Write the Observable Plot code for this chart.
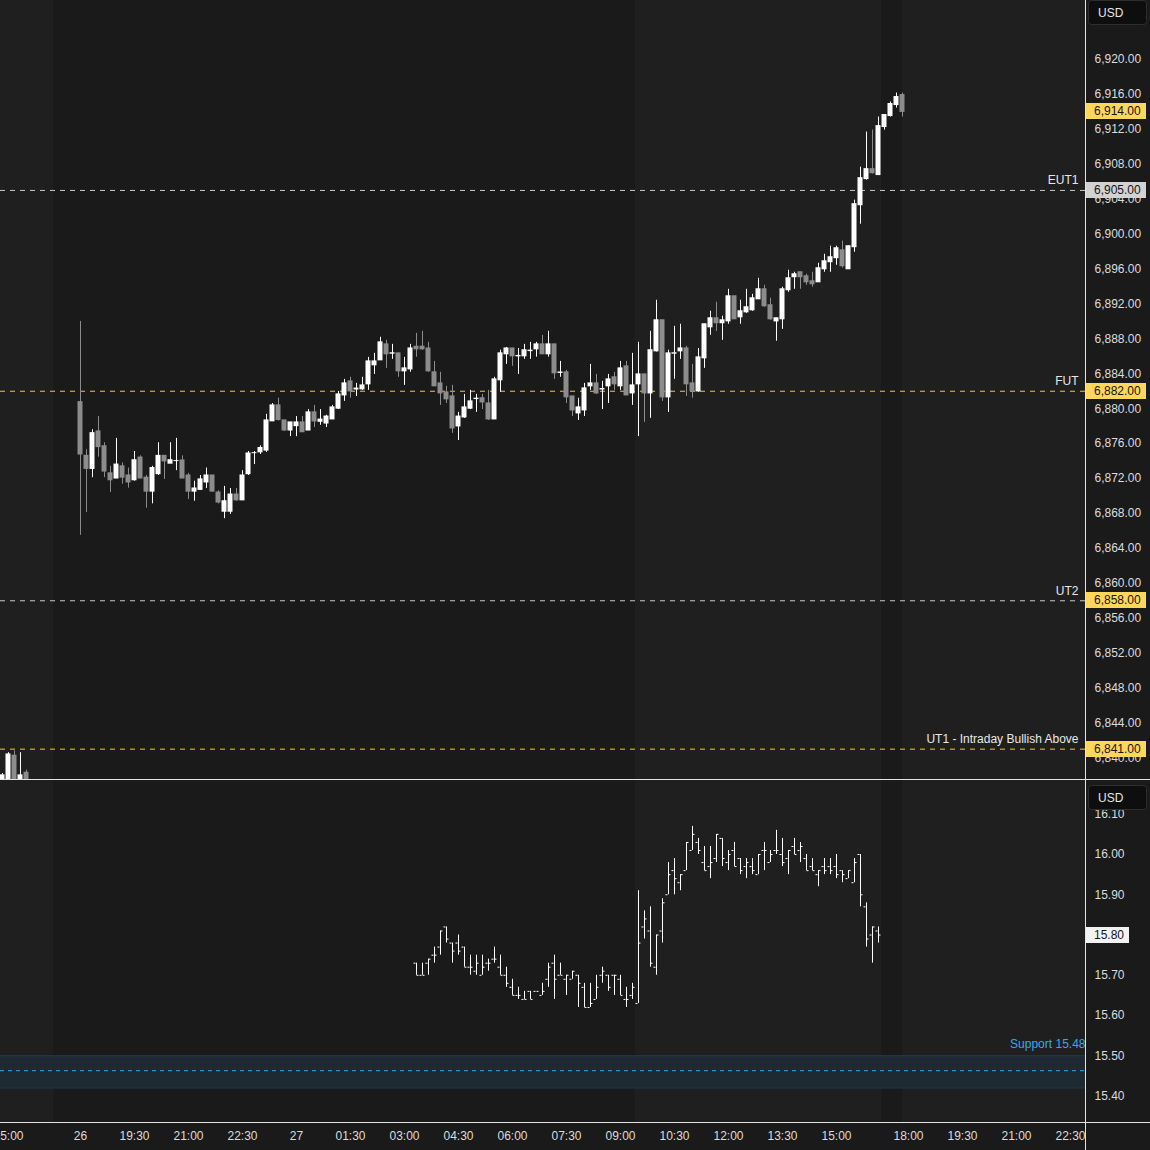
<!DOCTYPE html>
<html><head><meta charset="utf-8">
<script src="https://cdn.jsdelivr.net/npm/d3@7"></script>
<script src="https://cdn.jsdelivr.net/npm/@observablehq/plot@0.6"></script>
<style>
html,body{margin:0;padding:0;background:#1a1a1a;}
#wrap{position:relative;width:1150px;height:1150px;overflow:hidden;background:#1a1a1a;}
#wrap svg{display:block;}
</style></head><body><div id="wrap"></div>
<script>
// ---------------- DATA ----------------
// ES 10-minute candles, main session starting 18:00
const esStart = "18:00";
const esOpen = [6880.75,6874.6,6873.1,6877.4,6875.7,6872.6,6872.0,6873.4,6872.35,6871.8,
6874.4,6872.1,6870.5,6872.5,6874.6,6873.7,6874.0,6874.07,6872.35,6870.5,
6870.7,6871.55,6872.35,6870.4,6868.2,6868.2,6870.17,6869.5,6872.5,6874.9,
6875.0,6875.2,6878.55,6880.38,6878.66,6877.5,6878.0,6878.43,6877.5,6879.58,
6878.5,6878.3,6878.77,6880.0,6881.52,6883.13,6882.2,6882.21,6882.79,6884.97,
6885.54,6887.37,6886.3,6886.34,6884.28,6884.5,6887.1,6887.1,6886.9,6884.17,
6882.9,6881.87,6881.41,6877.97,6879.0,6880.0,6881.1,6881.2,6880.6,6878.77,
6883.25,6886.23,6886.9,6886.0,6886.0,6886.6,6886.8,6887.37,6886.23,6887.37,
6884.1,6884.17,6881.41,6879.46,6879.8,6882.56,6882.9,6882.2,6882.56,6883.6,
6882.56,6884.85,6881.75,6882.79,6883.93,6881.75,6886.57,6890.13,6881.3,6886.3,
6886.57,6886.9,6882.9,6881.98,6885.77,6889.32,6890.36,6889.79,6890.0,6892.88,
6890.47,6891.04,6891.27,6892.53,6893.68,6891.85,6890.0,6890.24,6893.57,6895.06,
6895.63,6895.17,6894.6,6894.48,6895.97,6896.78,6897.24,6898.15,6895.97,6898.5,
6903.31,6906.3,6907.44,6906.76,6912.26,6913.52,6914.78,6915.93];
const esHigh = [6890,6875.3,6877.6,6879.1,6876.1,6873.4,6876.6,6873.8,6873.2,6875.1,
6874.6,6872.35,6873.4,6876.1,6874.6,6876.1,6876.6,6874.6,6872.6,6871.7,
6872.35,6873.2,6872.35,6870.6,6871.1,6870.86,6870.86,6872.9,6875.1,6875.1,
6875.75,6879.35,6880.6,6881.2,6878.66,6878.43,6879.1,6879.1,6879.9,6880.38,
6879.9,6879.25,6880.38,6881.98,6883.36,6883.59,6882.9,6883.6,6885.88,6886.34,
6888.18,6887.83,6887.37,6886.34,6885.88,6887.37,6888.63,6888.86,6887.6,6885.42,
6884.17,6882.56,6882.67,6879.58,6881.64,6882.1,6881.64,6881.64,6882.1,6883.6,
6886.7,6887.0,6886.9,6886.9,6887.37,6887.6,6887.6,6888.4,6888.86,6887.37,
6885.42,6884.4,6881.41,6881.2,6882.9,6885.08,6883.93,6883.13,6883.93,6884.17,
6885.42,6885.42,6886.34,6887.6,6883.93,6888.86,6892.42,6890.13,6886.7,6889.44,
6889.67,6887.14,6885.08,6886.9,6889.67,6891.16,6892.19,6890.6,6893.68,6892.88,
6892.42,6893.68,6893.1,6894.94,6894.14,6892.65,6890.36,6893.91,6895.86,6895.63,
6895.63,6895.4,6895.63,6896.66,6897.69,6898.61,6898.61,6899.19,6898.61,6903.89,
6907.67,6911.69,6911.91,6913.41,6913.64,6915.13,6916.16,6916.16];
const esLow = [6865.5,6868.1,6872.1,6874.45,6872.1,6870.4,6872.0,6871.35,6870.9,6871.7,
6872.0,6868.6,6869.1,6872.35,6871.9,6873.7,6872.9,6872.0,6869.6,6869.4,
6870.7,6870.86,6870.5,6869.1,6867.4,6867.9,6869.4,6869.5,6872.35,6873.6,
6874.75,6875.0,6878.55,6878.6,6877.4,6876.8,6876.8,6877.3,6877.5,6877.85,
6878.1,6877.85,6878.77,6879.9,6880.84,6881.2,6881.4,6882.1,6882.1,6883.93,
6885.54,6884.62,6885.65,6883.6,6882.67,6884.17,6885.9,6886.7,6884.17,6882.56,
6880.38,6880.6,6877.17,6876.36,6878.9,6879.9,6879.58,6879.9,6878.66,6878.77,
6881.87,6885.08,6884.85,6883.93,6885.65,6885.65,6885.9,6886.23,6885.9,6883.36,
6883.6,6880.6,6879.1,6878.66,6879.1,6882.1,6881.64,6879.9,6880.6,6882.1,
6882.1,6881.52,6880.38,6876.8,6878.43,6878.9,6886.5,6880.84,6879.58,6883.36,
6885.65,6881.41,6881.2,6881.87,6884.62,6888.4,6888.86,6887.83,6889.67,6890.24,
6889.67,6890.93,6891.16,6892.53,6891.62,6890.13,6887.72,6889.09,6893.34,6893.68,
6893.68,6894.14,6893.91,6894.48,6895.63,6895.63,6896.43,6896.09,6895.97,6897.92,
6901.13,6906.18,6906.87,6906.76,6911.91,6913.41,6914.44,6913.41];
const esClose = [6874.75,6873.1,6877.2,6875.6,6872.8,6871.8,6873.6,6872.1,6871.55,6874.1,
6872.0,6870.5,6873.2,6874.6,6873.96,6874.1,6874.0,6872.0,6870.5,6870.86,
6871.9,6872.35,6870.5,6869.25,6869.4,6870.17,6869.5,6872.35,6874.87,6874.9,
6875.5,6878.66,6880.38,6878.7,6877.5,6878.43,6878.43,6877.3,6879.58,6878.54,
6878.75,6879.1,6880.15,6881.64,6882.9,6881.98,6882.3,6882.67,6885.42,6885.42,
6887.6,6886.23,6886.35,6884.28,6884.62,6886.9,6886.8,6886.8,6884.28,6882.56,
6881.75,6881.07,6877.74,6879.1,6880.15,6880.84,6881.15,6880.72,6878.77,6883.36,
6886.34,6886.9,6886.0,6886.05,6886.7,6886.65,6887.37,6886.23,6887.37,6884.05,
6884.15,6881.3,6879.8,6880.15,6882.33,6882.9,6881.75,6882.25,6883.36,6882.79,
6884.62,6881.52,6882.67,6883.93,6881.75,6886.7,6890.13,6881.3,6886.34,6886.35,
6886.9,6882.79,6882.0,6885.88,6889.67,6890.36,6889.79,6890.13,6892.88,6890.24,
6891.16,6891.62,6892.65,6893.68,6891.73,6890.24,6890.36,6893.68,6894.94,6895.4,
6895.06,6894.48,6894.25,6896.09,6896.89,6897.35,6898.38,6896.32,6898.61,6903.43,
6906.41,6907.44,6906.98,6912.37,6913.64,6914.9,6915.7,6914.0];

// Previous session tail (visible at the far left, mostly below the view)
const prevTimes = ["14:50","15:00","15:10","15:20","15:30"];
const prevOpen  = [6836.9, 6837.0, 6840.25, 6836.9, 6838.3];
const prevHigh  = [6838.2, 6840.6, 6840.8, 6840.6, 6838.6];
const prevLow   = [6836.5, 6836.6, 6836.6, 6836.5, 6836.5];
const prevClose = [6838.0, 6840.4, 6837.0, 6838.0, 6837.0];

// Lower panel: 10-minute OHLC bars starting 03:20
const vixStart = "03:20";
const vixOpen = [15.73,15.70,15.73,15.75,15.77,15.82,15.78,15.78,15.77,15.72,
15.71,15.70,15.73,15.74,15.72,15.70,15.67,15.65,15.64,15.66,
15.66,15.65,15.69,15.73,15.70,15.69,15.69,15.70,15.67,15.62,
15.64,15.70,15.70,15.70,15.69,15.64,15.65,15.63,15.82,15.81,
15.72,15.81,15.90,15.96,15.93,15.96,16.01,16.03,15.98,15.97,
15.99,16.04,15.98,16.01,15.99,15.97,15.97,15.95,16.01,15.98,
16.01,16.00,15.99,16.02,16.01,15.99,15.97,15.95,15.97,15.97,
15.97,15.96,15.94,15.93,16.00,15.87,15.80,15.81];
const vixHigh = [15.73,15.73,15.74,15.77,15.81,15.82,15.78,15.80,15.77,15.75,
15.75,15.75,15.74,15.77,15.75,15.72,15.69,15.67,15.66,15.66,
15.66,15.68,15.73,15.75,15.73,15.70,15.71,15.70,15.68,15.68,
15.70,15.72,15.70,15.70,15.70,15.67,15.68,15.91,15.86,15.87,
15.80,15.89,15.98,15.99,15.95,16.03,16.07,16.04,16.02,16.02,
16.05,16.04,16.01,16.03,15.99,15.99,15.99,16.00,16.03,16.01,
16.06,16.04,16.01,16.04,16.03,16.00,15.99,15.96,15.99,15.99,
16.00,15.96,15.96,15.99,16.00,15.88,15.82,15.82];
const vixLow = [15.70,15.70,15.70,15.73,15.75,15.78,15.73,15.75,15.72,15.70,
15.70,15.70,15.71,15.73,15.70,15.67,15.65,15.64,15.64,15.64,
15.66,15.65,15.67,15.64,15.70,15.65,15.69,15.62,15.62,15.62,
15.64,15.68,15.66,15.65,15.65,15.62,15.64,15.63,15.79,15.72,
15.70,15.78,15.90,15.90,15.91,15.96,16.01,16.00,15.96,15.94,
15.98,15.97,15.96,15.97,15.95,15.94,15.95,15.95,15.96,15.98,
16.00,15.97,15.95,16.00,15.98,15.96,15.96,15.92,15.95,15.95,
15.94,15.93,15.94,15.93,15.87,15.77,15.73,15.78];
const vixClose = [15.70,15.70,15.74,15.75,15.81,15.79,15.76,15.76,15.72,15.72,
15.73,15.72,15.73,15.74,15.70,15.68,15.65,15.65,15.64,15.64,
15.66,15.66,15.72,15.69,15.70,15.70,15.71,15.68,15.62,15.63,
15.67,15.71,15.67,15.70,15.65,15.64,15.67,15.78,15.84,15.73,
15.80,15.88,15.95,15.94,15.95,16.03,16.05,16.01,15.96,15.98,
16.05,15.99,16.00,15.97,15.96,15.98,15.96,16.00,16.01,16.00,
16.01,15.98,16.01,16.00,16.02,15.96,15.96,15.96,15.96,15.96,
15.95,15.95,15.96,15.98,15.90,15.79,15.82,15.80];

// Key levels (upper panel)
const levelValues = [6905, 6882, 6858, 6841];
const levelNames  = ["EUT1", "FUT", "UT2", "UT1 - Intraday Bullish Above"];
const levelLine   = ["#c9c9c9", "#f4c640", "#c9c9c9", "#f4c640"];
const levelBadge  = ["#d2d2d2", "#fdd65c", "#fdd65c", "#fdd65c"];
const lastPrice = 6914.00;
const lastVix = 15.80;

// Support zone (lower panel)
const supportLow = 15.42, supportHigh = 15.50, supportLine = 15.463;
const supportLabel = "Support 15.48";

// Axis ticks
const yTicksTop = d3.range(6840, 6921, 4);
const yTicksBottom = [15.4,15.5,15.6,15.7,15.8,15.9,16.0,16.1];
const xTickLabels = ["15:00","26","19:30","21:00","22:30","27","01:30","03:00","04:30","06:00","07:30","09:00","10:30","12:00","13:30","15:00","18:00","19:30","21:00","22:30"];
const xTickTimes  = ["15:00","18:00","19:30","21:00","22:30","00:00","01:30","03:00","04:30","06:00","07:30","09:00","10:30","12:00","13:30","15:00","18:00","19:30","21:00","22:30"];
const xTickSeg    = [0,1,1,1,1,1,1,1,1,1,1,1,1,1,1,1,2,2,2,2];

// Regular-hours sessions (lighter background): [segment, first bar, last bar]
const sessions = [[0,"09:30","16:10"],[1,"09:30","16:10"],[2,"17:55","23:50"]];

// ---------------- TIME AXIS (trading minutes, closed hour removed) ----------------
function mOf(seg, hhmm){
  const [h, mi] = hhmm.split(":").map(Number);
  const t = h*60 + mi;
  if (seg === 0) return t - 1020;
  if (seg === 1) return t >= 1080 ? t - 1080 : t + 360;
  return 1380 + (t - 1080);
}
const xDomain = [-133.3333, 1675];
const halfBody = 4.1667, halfTick = 4.1667, inTick = 0.8333;

const esStartM = mOf(1, esStart);
const es = esOpen.map((o,i)=>({m: esStartM + 10*i, o, h: esHigh[i], l: esLow[i], c: esClose[i]}));
const prev = prevTimes.map((t,i)=>({m: mOf(0,t), o: prevOpen[i], h: prevHigh[i], l: prevLow[i], c: prevClose[i]}));
const candles = prev.concat(es);
const upC = candles.filter(d=>d.c >= d.o), dnC = candles.filter(d=>d.c < d.o);

const vixStartM = mOf(1, vixStart);
const vix = vixOpen.map((o,i)=>({m: vixStartM + 10*i, o, h: vixHigh[i], l: vixLow[i], c: vixClose[i]}));

const bands = sessions.map(([s,a,b])=>({x1: Math.max(mOf(s,a)-5, xDomain[0]), x2: Math.min(mOf(s,b)+5, xDomain[1])}));
const levels = levelValues.map((v,i)=>({v, name: levelNames[i], line: levelLine[i]}));
const xTickM = xTickTimes.map((t,i)=>mOf(xTickSeg[i], t));
const tickLabel = new Map(xTickM.map((m,i)=>[m, xTickLabels[i]]));

const FONT = "Liberation Sans, Arial, sans-serif";
const TXT = "#dcdcdc";
const LIGHT = "#1f1f1f";

// ---------------- TOP PANEL ----------------
const topChart = Plot.plot({
  width: 1150, height: 780,
  marginLeft: 0, marginRight: 65, marginTop: 0, marginBottom: 1,
  style: {background: "transparent", fontFamily: FONT, fontSize: "12px", color: TXT},
  x: {domain: xDomain, axis: null},
  y: {domain: [6837.526, 6926.758], axis: null},
  color: {type: "identity"},
  marks: [
    Plot.rect(bands, {x1: "x1", x2: "x2", fill: LIGHT}),
    Plot.axisY({anchor: "right", ticks: yTicksTop, tickSize: 0, tickPadding: 9, tickFormat: d3.format(",.2f"), fill: TXT}),
    Plot.ruleY(levels, {y: "v", stroke: "line", strokeDasharray: "5,5", strokeWidth: 1}),
    Plot.text(levels, {y: "v", text: "name", frameAnchor: "right", textAnchor: "end", dx: -7, dy: -10, fill: "#e8e8e8"}),
    Plot.ruleX(dnC, {x: "m", y1: "l", y2: "h", stroke: "#8c8c8c", clip: true}),
    Plot.ruleX(upC, {x: "m", y1: "l", y2: "h", stroke: "#ffffff", clip: true}),
    Plot.rect(dnC, {x1: d=>d.m-halfBody, x2: d=>d.m+halfBody, y1: "o", y2: "c", fill: "#8c8c8c", insetTop: -0.5, insetBottom: -0.5, clip: true}),
    Plot.rect(upC, {x1: d=>d.m-halfBody, x2: d=>d.m+halfBody, y1: "o", y2: "c", fill: "#ffffff", insetTop: -0.5, insetBottom: -0.5, clip: true})
  ]
});

// ---------------- BOTTOM PANEL ----------------
const bottomChart = Plot.plot({
  width: 1150, height: 370,
  marginLeft: 0, marginRight: 65, marginTop: 0, marginBottom: 28,
  style: {background: "transparent", fontFamily: FONT, fontSize: "12px", color: TXT},
  x: {domain: xDomain},
  y: {domain: [15.3342, 16.1839], axis: null},
  marks: [
    Plot.rect(bands, {x1: "x1", x2: "x2", fill: LIGHT}),
    Plot.rect([{a: supportLow, b: supportHigh}], {y1: "a", y2: "b", fill: "#1e2a32"}),
    Plot.ruleY([supportLow, supportHigh], {stroke: "#283b47"}),
    Plot.ruleY([supportLine], {stroke: "#2aa8ee", strokeDasharray: "4,4"}),
    Plot.text([supportLabel], {y: supportHigh, text: d=>d, frameAnchor: "right", textAnchor: "end", dx: 0, dy: -12, fill: "#3aa6ea"}),
    Plot.axisY({anchor: "right", ticks: yTicksBottom, tickSize: 0, tickPadding: 9, tickFormat: d3.format(".2f"), fill: TXT}),
    Plot.axisX({ticks: xTickM, tickFormat: d=>tickLabel.get(d), tickSize: 0, tickPadding: 9, fill: TXT, label: null}),
    Plot.ruleX(vix, {x: "m", y1: "l", y2: "h", stroke: "#ffffff", clip: true}),
    Plot.ruleY(vix, {x1: d=>d.m-halfTick, x2: d=>d.m-inTick, y: "o", stroke: "#ffffff", clip: true}),
    Plot.ruleY(vix, {x1: d=>d.m+inTick, x2: d=>d.m+halfTick, y: "c", stroke: "#ffffff", clip: true})
  ]
});

const wrap = document.getElementById("wrap");
wrap.appendChild(topChart);
wrap.appendChild(bottomChart);

// ---------------- CHROME: separators, badges, currency boxes ----------------
function badge(svg, y, text, fill, w){
  const g = d3.select(svg).append("g").attr("text-anchor", "start");
  g.append("rect").attr("x", 1086).attr("y", Math.round(y)-8).attr("width", w).attr("height", 16).attr("fill", fill);
  g.append("text").attr("x", 1094).attr("y", Math.round(y)).attr("dy", "0.35em").attr("text-anchor", "start")
    .attr("font-family", FONT).attr("font-size", 12).attr("fill", "#151515").text(text);
}
function usd(svg, y){
  const g = d3.select(svg).append("g").attr("text-anchor", "start");
  g.append("rect").attr("x", 1088.5).attr("y", y+0.5).attr("width", 58).attr("height", 24).attr("rx", 3)
    .attr("fill", "#0e0e0e").attr("stroke", "#2e2e2e");
  g.append("text").attr("x", 1098).attr("y", y+12.5).attr("dy", "0.35em").attr("text-anchor", "start")
    .attr("font-family", FONT).attr("font-size", 12).attr("fill", "#e6e6e6").text("USD");
}
function line(svg, x1, y1, x2, y2){
  d3.select(svg).append("line").attr("x1", x1).attr("y1", y1).attr("x2", x2).attr("y2", y2)
    .attr("stroke", "#e4e4e4").attr("stroke-width", 1);
}
const yT = topChart.scale("y"), yB = bottomChart.scale("y");
const fmt = d3.format(",.2f");
levels.forEach((l,i)=>badge(topChart, yT.apply(l.v), fmt(l.v), levelBadge[i], 60));
badge(topChart, yT.apply(lastPrice), fmt(lastPrice), "#fdd65c", 60);
badge(bottomChart, yB.apply(lastVix), d3.format(".2f")(lastVix), "#f2f2f2", 43);
usd(topChart, 0);
usd(bottomChart, 5);
line(topChart, 1085.5, 0, 1085.5, 780);
line(topChart, 0, 779.5, 1150, 779.5);
line(bottomChart, 1085.5, 0, 1085.5, 370);
line(bottomChart, 0, 342.5, 1150, 342.5);
</script></body></html>
